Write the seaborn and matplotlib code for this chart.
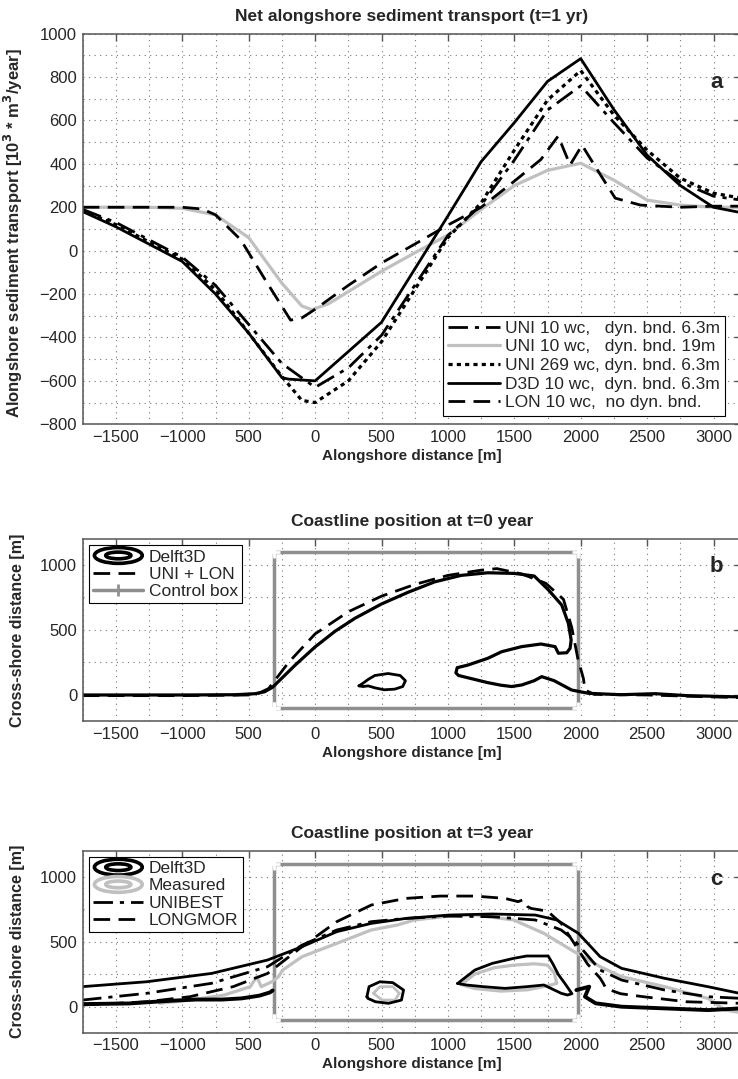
import numpy as np
import matplotlib
matplotlib.use("Agg")
import matplotlib.pyplot as plt
import seaborn as sns
from matplotlib.legend_handler import HandlerBase
from matplotlib.patches import Ellipse
from matplotlib.lines import Line2D
from matplotlib.ticker import FixedLocator, MultipleLocator

# ---------------- data: panel a (net alongshore transport, 10^3 m3/yr) ----------------
x_d3d = [-1750, -1500, -1250, -1000, -750, -500, -250, -200, 0, 500, 1000, 1250, 1500, 1750, 2000,
         2250, 2500, 2750, 3000, 3210]
y_d3d = [180, 110, 30, -50, -200, -380, -585, -592, -600, -330, 160, 410, 590, 780, 885,
         650, 440, 300, 200, 175]

x_uni63 = [-1750, -1500, -1250, -1000, -750, -500, -250, 0, 250, 500, 750, 1000, 1250, 1500, 1750,
           2000, 2250, 2500, 2750, 3000, 3210]
y_uni63 = [190, 130, 50, -30, -160, -340, -520, -630, -540, -390, -160, 70, 210, 417, 648,
           760, 590, 427, 316, 251, 233]

x_uni269 = [-1750, -1500, -1250, -1000, -750, -500, -250, -100, 0, 250, 500, 750, 1000, 1250, 1500,
            1750, 2000, 2250, 2500, 2750, 3000, 3210]
y_uni269 = [185, 120, 40, -40, -180, -380, -580, -690, -700, -600, -420, -180, 60, 220, 463,
            694, 830, 625, 463, 334, 265, 242]

x_uni19 = [-1750, -1250, -1000, -750, -500, -250, -100, -25, 100, 500, 750, 1000, 1250, 1500, 1750,
           2000, 2250, 2500, 2750, 3000, 3210]
y_uni19 = [200, 200, 195, 165, 60, -150, -255, -272, -245, -95, -10, 72, 190, 300, 370,
           403, 325, 233, 210, 200, 200]

x_lon = [-1750, -1000, -850, -750, -560, -375, -185, -100, 0, 250, 500, 750, 1000, 1250, 1500,
         1700, 1830, 1920, 2010, 2150, 2260, 2450, 2750, 3000, 3210]
y_lon = [200, 200, 192, 165, 50, -135, -320, -310, -270, -160, -57, 30, 118, 200, 320,
         420, 528, 395, 486, 348, 242, 210, 200, 205, 205]

# ---------------- data: panel b (coastline t=0) ----------------
x_b_d3d = [-1750, -1000, -600, -450, -380, -320, -250, -150, 0, 150, 300, 500, 700, 900, 1100, 1300,
           1500, 1650, 1757, 1857, 1907, 1928, 1920, 1895, 1832, 1807, 1700, 1556, 1405, 1300, 1150,
           1070, 1060, 1080, 1200, 1300, 1400, 1480, 1556, 1650, 1706, 1800, 1932, 2058, 2300, 2560,
           2800, 3000, 3210]
y_b_d3d = [0, 0, 2, 10, 25, 60, 130, 230, 370, 490, 590, 700, 790, 870, 920, 940,
           935, 915, 808, 692, 551, 423, 359, 325, 321, 372, 392, 372, 333, 282, 230,
           210, 170, 150, 120, 95, 75, 65, 77, 110, 141, 110, 38, 13, 2, 10,
           -5, -10, -15]
x_b_isl = [330, 360, 400, 450, 550, 640, 680, 660, 600, 520, 450, 400, 360, 330]
y_b_isl = [70, 90, 120, 150, 165, 150, 110, 65, 45, 40, 55, 70, 65, 70]

x_b_uni = [-1750, -1000, -500, -420, -350, -200, 0, 250, 500, 750, 1000, 1250, 1368, 1556, 1737,
           1870, 1932, 1978, 2020, 2033, 2100, 2500, 3000, 3210]
y_b_uni = [-5, -5, 0, 15, 50, 250, 470, 640, 760, 850, 920, 960, 972, 931, 859,
           736, 521, 282, 128, 38, 5, 0, -15, -20]

box_x = [-310, -310, 1980, 1980, -310]
box_y = [-100, 1100, 1100, -100, -100]

# ---------------- data: panel c (coastline t=3) ----------------
x_c_d3d = [-1755, -1268, -780, -358, -98, 163, 423, 683, 1008, 1333, 1658, 1820, 1983, 2146, 2308,
           2633, 2958, 3210]
y_c_d3d = [154, 192, 256, 359, 462, 577, 641, 679, 705, 713, 705, 667, 564, 385, 295,
           218, 154, 100]
x_c_d3d_low_l = [-1755, -1400, -1100, -900, -700, -553, -420, -340, -320]
y_c_d3d_low_l = [20, 25, 45, 55, 55, 64, 85, 110, 125]
x_c_d3d_low_r = [1967, 2064, 2032, 2113, 2308, 2633, 2958, 3210]
y_c_d3d_low_r = [128, 154, 77, 26, 0, -13, -26, -13]
x_c_bar = [1073, 1150, 1203, 1333, 1495, 1593, 1755, 1790, 1830, 1880, 1934, 1900, 1853, 1723,
           1593, 1430, 1268, 1138, 1073]
y_c_bar = [179, 240, 282, 333, 372, 390, 390, 330, 250, 180, 100, 90, 103, 167,
           154, 141, 154, 167, 179]
x_c_isl = [390, 406, 488, 585, 666, 650, 553, 455, 397, 390]
y_c_isl = [77, 154, 192, 185, 128, 51, 26, 38, 64, 77]

x_c_meas = [-1170, -943, -683, -488, -439, -406, -325, -276, -244, -98, 163, 423, 618, 748, 1008,
            1203, 1495, 1723, 1951, 2146, 2308, 2633, 2958, 3088, 3210]
y_c_meas = [26, 51, 90, 154, 231, 154, 192, 231, 282, 385, 487, 590, 628, 667, 697,
            705, 667, 564, 423, 308, 231, 154, 64, -26, -46]
x_c_meas_bar = [1100, 1200, 1350, 1500, 1650, 1750, 1800, 1820, 1750, 1600, 1400, 1200, 1100]
y_c_meas_bar = [170, 250, 300, 320, 330, 320, 260, 180, 160, 130, 120, 140, 170]
x_c_meas_isl = [439, 488, 585, 634, 601, 504, 439]
y_c_meas_isl = [103, 154, 154, 103, 51, 51, 103]

x_c_uni = [-1755, -1268, -780, -358, -98, 163, 423, 683, 1008, 1333, 1658, 1853, 1951, 2146, 2308,
           2633, 2958, 3210]
y_c_uni = [51, 103, 180, 308, 474, 590, 654, 679, 697, 692, 667, 590, 513, 282, 205,
           128, 77, 64]
x_c_lon = [-1755, -1268, -943, -618, -358, -98, 163, 423, 683, 943, 1203, 1430, 1528, 1560, 1577,
           1600, 1626, 1750, 1853, 1951, 2050, 2146, 2170, 2190, 2300, 2471, 2796, 3210]
y_c_lon = [13, 38, 77, 154, 256, 462, 654, 782, 833, 851, 851, 833, 808, 820, 815,
           770, 756, 735, 641, 487, 330, 220, 180, 140, 100, 77, 38, 26]

xtick_pos = [-1500, -1000, -500, 0, 500, 1000, 1500, 2000, 2500, 3000]
xtick_lab = ["\u22121500", "\u22121000", "500", "0", "500", "1000", "1500", "2000", "2500", "3000"]
ytick_a = [-800, -600, -400, -200, 0, 200, 400, 600, 800, 1000]
ytick_bc = [0, 500, 1000]

# ---------------- style ----------------
sns.set_theme(style="white")
plt.rcParams["font.family"] = ["Liberation Sans", "DejaVu Sans"]
plt.rcParams["axes.unicode_minus"] = True

BLACK = "black"
LGRAY = "#c0c0c0"
BOXG = "#8f8f8f"
SPINE = "#555555"
LW = 2.0
FONT = ["Liberation Sans", "DejaVu Sans"]

DASHDOT = (0, (7, 2.5, 1.5, 2.5))
DOTTED = (0, (1.3, 1.3))
DASHED = (0, (6, 3))


def draw(ax, x, y, **kw):
    sns.lineplot(x=np.asarray(x, float), y=np.asarray(y, float), sort=False, estimator=None,
                 ax=ax, legend=False, **kw)


class HandlerRings(HandlerBase):
    def create_artists(self, legend, orig_handle, xdescent, ydescent, width, height, fontsize, trans):
        c = orig_handle.get_color()
        cx = width / 2 - xdescent
        cy = height / 2 - ydescent
        e1 = Ellipse((cx, cy), width * 0.95, height * 1.3, fill=False, ec=c, lw=2.6, transform=trans)
        e2 = Ellipse((cx, cy), width * 0.5, height * 0.55, fill=False, ec=c, lw=2.6, transform=trans)
        return [e1, e2]


def style_axes(ax, ylim, yticks, yminor):
    ax.set_xlim(-1750, 3210)
    ax.set_ylim(*ylim)
    ax.xaxis.set_major_locator(FixedLocator(xtick_pos))
    ax.set_xticklabels(xtick_lab)
    ax.xaxis.set_minor_locator(MultipleLocator(250))
    ax.set_yticks(yticks)
    ax.set_yticklabels([str(v).replace("-", "\u2212") for v in yticks])
    ax.yaxis.set_minor_locator(MultipleLocator(yminor))
    ax.grid(which="both", linestyle=(0, (1, 4)), color="#777777", linewidth=0.8)
    ax.set_axisbelow(True)
    ax.tick_params(which="major", direction="in", length=5, width=1, color=SPINE,
                   top=True, right=True, labelsize=12, pad=4)
    ax.tick_params(which="minor", length=0)
    for s in ax.spines.values():
        s.set_color(SPINE)
        s.set_linewidth(1.1)
    ax.set_xlabel("Alongshore distance [m]", fontsize=11, fontweight="bold", labelpad=3)


fig = plt.figure(figsize=(7.38, 10.79), dpi=100)
L, Wd = 0.1121, 0.8925
ax_a = fig.add_axes([L, 0.6068, Wd, 0.3620])
ax_b = fig.add_axes([L, 0.3318, Wd, 0.1687])
ax_c = fig.add_axes([L, 0.0429, Wd, 0.1687])

# ---- panel a ----
draw(ax_a, x_uni19, y_uni19, color=LGRAY, linewidth=LW + 0.3)
draw(ax_a, x_lon, y_lon, color=BLACK, linewidth=LW, linestyle=DASHED)
draw(ax_a, x_uni63, y_uni63, color=BLACK, linewidth=LW, linestyle=DASHDOT)
draw(ax_a, x_uni269, y_uni269, color=BLACK, linewidth=LW + 0.3, linestyle=DOTTED)
draw(ax_a, x_d3d, y_d3d, color=BLACK, linewidth=LW)
style_axes(ax_a, (-800, 1000), ytick_a, 100)
ax_a.set_title("Net alongshore sediment transport (t=1 yr)", fontsize=12.5, fontweight="bold", pad=9)
ax_a.set_ylabel("Alongshore sediment transport [10$^{\\mathbf{3}}$ * m$^{\\mathbf{3}}$/year]",
                fontsize=12, fontweight="bold")
ax_a.yaxis.set_label_coords(-0.088, 0.49)
ax_a.text(0.962, 0.874, "a", transform=ax_a.transAxes, fontsize=16, fontweight="bold",
          ha="center", va="center")
h_a = [Line2D([], [], color=BLACK, lw=LW, linestyle=DASHDOT),
       Line2D([], [], color=LGRAY, lw=LW + 0.3),
       Line2D([], [], color=BLACK, lw=LW + 0.3, linestyle=DOTTED),
       Line2D([], [], color=BLACK, lw=LW),
       Line2D([], [], color=BLACK, lw=LW, linestyle=DASHED)]
l_a = ["UNI 10 wc,   dyn. bnd. 6.3m", "UNI 10 wc,   dyn. bnd. 19m", "UNI 269 wc, dyn. bnd. 6.3m",
       "D3D 10 wc,  dyn. bnd. 6.3m", "LON 10 wc,  no dyn. bnd."]
leg = ax_a.legend(h_a, l_a, loc="lower right", bbox_to_anchor=(0.989, 0.0), borderaxespad=0.5,
                  prop={"family": FONT, "size": 12.5},
                  handlelength=3.0, handletextpad=0.3, labelspacing=0.2, borderpad=0.3,
                  fancybox=False, framealpha=1, edgecolor="black")
leg.get_frame().set_linewidth(0.8)

# ---- panel b ----
draw(ax_b, box_x, box_y, color=BOXG, linewidth=2.5, marker="+", markersize=8, markeredgewidth=2)
draw(ax_b, x_b_d3d, y_b_d3d, color=BLACK, linewidth=LW + 0.3)
draw(ax_b, x_b_isl, y_b_isl, color=BLACK, linewidth=LW)
draw(ax_b, x_b_uni, y_b_uni, color=BLACK, linewidth=LW, linestyle=DASHED)
style_axes(ax_b, (-200, 1200), ytick_bc, 250)
ax_b.set_title("Coastline position at t=0 year", fontsize=12.5, fontweight="bold", pad=9)
ax_b.set_ylabel("Cross-shore distance [m]", fontsize=11.5, fontweight="bold")
ax_b.yaxis.set_label_coords(-0.088, 0.5)
ax_b.text(0.962, 0.85, "b", transform=ax_b.transAxes, fontsize=16, fontweight="bold",
          ha="center", va="center")
h_b = [Line2D([], [], color=BLACK), Line2D([], [], color=BLACK, lw=LW, linestyle=DASHED),
       Line2D([], [], color=BOXG, lw=2.5, marker="+", markersize=8, markeredgewidth=2)]
leg_b = ax_b.legend(h_b, ["Delft3D", "UNI + LON", "Control box"], loc="upper left",
                    borderaxespad=0.35, prop={"family": FONT, "size": 12.5},
                    handlelength=2.9, handletextpad=0.3, labelspacing=0.12, borderpad=0.25,
                    fancybox=False, framealpha=1, edgecolor="black",
                    handler_map={h_b[0]: HandlerRings()})
leg_b.get_frame().set_linewidth(0.8)

# ---- panel c ----
draw(ax_c, box_x, box_y, color=BOXG, linewidth=2.5, marker="+", markersize=8, markeredgewidth=2)
draw(ax_c, x_c_meas, y_c_meas, color=LGRAY, linewidth=LW + 0.3)
draw(ax_c, x_c_meas_bar, y_c_meas_bar, color=LGRAY, linewidth=LW + 0.3)
draw(ax_c, x_c_meas_isl, y_c_meas_isl, color=LGRAY, linewidth=LW)
draw(ax_c, x_c_uni, y_c_uni, color=BLACK, linewidth=LW, linestyle=DASHDOT)
draw(ax_c, x_c_lon, y_c_lon, color=BLACK, linewidth=LW, linestyle=DASHED)
draw(ax_c, x_c_d3d, y_c_d3d, color=BLACK, linewidth=LW)
draw(ax_c, x_c_d3d_low_l, y_c_d3d_low_l, color=BLACK, linewidth=LW + 0.8)
draw(ax_c, x_c_d3d_low_r, y_c_d3d_low_r, color=BLACK, linewidth=LW + 0.8)
draw(ax_c, x_c_bar, y_c_bar, color=BLACK, linewidth=LW)
draw(ax_c, x_c_isl, y_c_isl, color=BLACK, linewidth=LW)
style_axes(ax_c, (-200, 1200), ytick_bc, 250)
ax_c.set_title("Coastline position at t=3 year", fontsize=12.5, fontweight="bold", pad=9)
ax_c.set_ylabel("Cross-shore distance [m]", fontsize=11.5, fontweight="bold")
ax_c.yaxis.set_label_coords(-0.088, 0.5)
ax_c.text(0.962, 0.84, "c", transform=ax_c.transAxes, fontsize=16, fontweight="bold",
          ha="center", va="center")
h_c = [Line2D([], [], color=BLACK), Line2D([], [], color=LGRAY),
       Line2D([], [], color=BLACK, lw=LW, linestyle=DASHDOT),
       Line2D([], [], color=BLACK, lw=LW, linestyle=DASHED)]
leg_c = ax_c.legend(h_c, ["Delft3D", "Measured", "UNIBEST", "LONGMOR"], loc="upper left",
                    borderaxespad=0.35, prop={"family": FONT, "size": 12.5},
                    handlelength=2.9, handletextpad=0.3, labelspacing=0.12, borderpad=0.25,
                    fancybox=False, framealpha=1, edgecolor="black",
                    handler_map={h_c[0]: HandlerRings(), h_c[1]: HandlerRings()})
leg_c.get_frame().set_linewidth(0.8)

fig.savefig("out.png", dpi=100)
